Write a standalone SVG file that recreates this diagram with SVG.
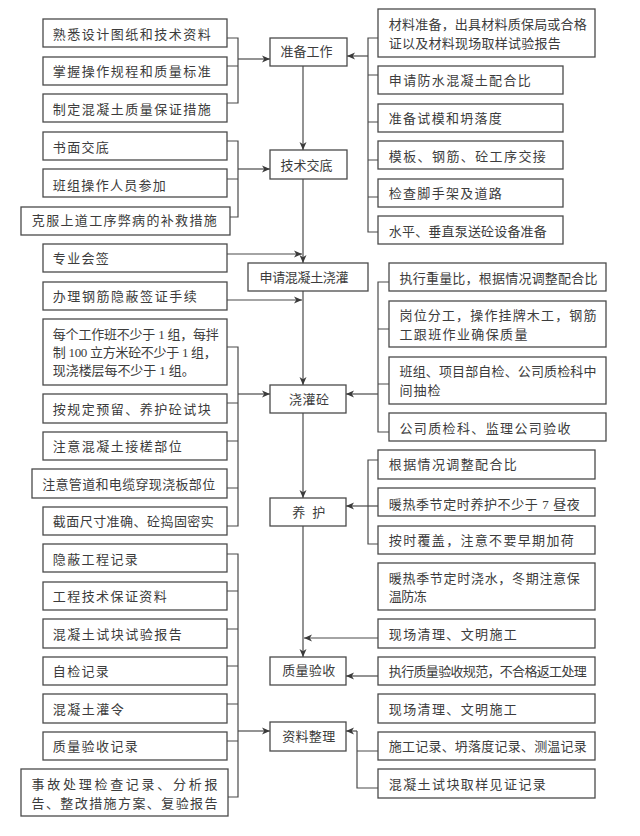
<svg xmlns="http://www.w3.org/2000/svg" width="640" height="836" viewBox="0 0 640 836">
<style>
.box{fill:#fff;stroke:#4a4a4a;stroke-width:1.3}
.t{font-family:"Noto Sans CJK SC",sans-serif;font-size:13px;fill:#3c3c3c}
.tm{font-family:"Liberation Serif","Noto Sans CJK SC",serif;font-size:13px;fill:#3c3c3c}
.ln{fill:none;stroke:#4a4a4a;stroke-width:1.2}
.ar{fill:none;stroke:#4a4a4a;stroke-width:1.2;marker-end:url(#ah)}
</style>
<defs>
<marker id="ah" viewBox="0 0 8 8" refX="8" refY="4" markerWidth="8" markerHeight="8" markerUnits="userSpaceOnUse" orient="auto">
<path d="M0,0.5 L8,4 L0,7.5 L2.2,4 z" fill="#3a3a3a"/>
</marker>
</defs>
<rect width="640" height="836" fill="#fff"/>

<g id="connectors">
<path class="ln" d="M227,38 H238 V103 H227 M227,66 H238"/>
<path class="ar" d="M238,59 H270"/>
<path class="ln" d="M378,38 H368 V232 H378 M368,75 H378 M368,122 H378 M368,160 H378 M368,197 H378"/>
<path class="ar" d="M368,56 H347"/>
<path class="ln" d="M227,141 H238 V217 H230 M227,179 H238"/>
<path class="ar" d="M238,169 H270"/>
<path class="ar" d="M303,66 V150"/>
<path class="ar" d="M303,179 V263"/>
<path class="ar" d="M227,254 H302"/>
<path class="ar" d="M227,300 H302"/>
<path class="ar" d="M303,291 V385"/>
<path class="ln" d="M227,347 H238 V526 H227 M227,403 H238 M227,441 H238 M227,488 H238"/>
<path class="ar" d="M238,394 H270"/>
<path class="ln" d="M389,282 H378 V432 H389 M378,329 H389 M378,384 H389"/>
<path class="ar" d="M378,394 H346"/>
<path class="ar" d="M303,413 V498"/>
<path class="ln" d="M378,460 H368 V544 H378"/>
<path class="ar" d="M378,506 H346"/>
<path class="ar" d="M303,526 V657"/>
<path class="ar" d="M378,638 H304"/>
<path class="ar" d="M378,676 H346"/>
<path class="ln" d="M227,554 H238 V797 H228 M227,591 H238 M227,629 H238 M227,666 H238 M227,704 H238 M227,741 H238"/>
<path class="ar" d="M238,731 H270"/>
<path class="ln" d="M378,751 H357 M378,788 H357 V731"/>
<path class="ar" d="M357,731 H346"/>
</g>

<g id="n_zbgz"><rect class="box" x="270" y="38" width="77" height="28"/><text class="t" x="280.5" y="56" textLength="52" lengthAdjust="spacing">准备工作</text></g>
<g id="n_jsjd"><rect class="box" x="270" y="150" width="77" height="29"/><text class="t" x="280.5" y="170" textLength="52" lengthAdjust="spacing">技术交底</text></g>
<g id="n_sqjz"><rect class="box" x="248" y="263" width="120" height="28"/><text class="t" x="259.5" y="282" textLength="89" lengthAdjust="spacing">申请混凝土浇灌</text></g>
<g id="n_jgt"><rect class="box" x="270" y="385" width="76" height="28"/><text class="t" x="289" y="403.5" textLength="40" lengthAdjust="spacing">浇灌砼</text></g>
<g id="n_yh"><rect class="box" x="270" y="498" width="76" height="28"/><text class="t" x="292.2" y="517" textLength="33" lengthAdjust="spacing">养 护</text></g>
<g id="n_zlys"><rect class="box" x="270" y="657" width="76" height="28"/><text class="t" x="282.2" y="675" textLength="53" lengthAdjust="spacing">质量验收</text></g>
<g id="n_zlzl"><rect class="box" x="270" y="722" width="76" height="29"/><text class="t" x="282.2" y="741" textLength="53" lengthAdjust="spacing">资料整理</text></g>

<g id="l1"><rect class="box" x="43" y="19" width="184" height="28"/><text class="t" x="52.8" y="38.5" textLength="158" lengthAdjust="spacing">熟悉设计图纸和技术资料</text></g>
<g id="l2"><rect class="box" x="43" y="57" width="184" height="28"/><text class="t" x="52.8" y="75.5" textLength="158" lengthAdjust="spacing">掌握操作规程和质量标准</text></g>
<g id="l3"><rect class="box" x="43" y="94" width="184" height="28"/><text class="t" x="52.8" y="113.5" textLength="158" lengthAdjust="spacing">制定混凝土质量保证措施</text></g>
<g id="l4"><rect class="box" x="43" y="132" width="184" height="28"/><text class="t" x="52.8" y="151.5" textLength="56" lengthAdjust="spacing">书面交底</text></g>
<g id="l5"><rect class="box" x="43" y="169" width="184" height="28"/><text class="t" x="52.8" y="189.5" textLength="113" lengthAdjust="spacing">班组操作人员参加</text></g>
<g id="l6"><rect class="box" x="21" y="207" width="209" height="28"/><text class="t" x="31.8" y="225" textLength="185" lengthAdjust="spacing">克服上道工序弊病的补救措施</text></g>
<g id="l7"><rect class="box" x="43" y="244" width="184" height="28"/><text class="t" x="52.8" y="262.5" textLength="56" lengthAdjust="spacing">专业会签</text></g>
<g id="l8"><rect class="box" x="43" y="282" width="184" height="28"/><text class="t" x="52.8" y="301" textLength="144" lengthAdjust="spacing">办理钢筋隐蔽签证手续</text></g>
<g id="l9"><rect class="box" x="43" y="319" width="184" height="66"/>
<text class="tm" x="52.8" y="338.5" textLength="166" lengthAdjust="spacing">每个工作班不少于 1 组，每拌</text>
<text class="tm" x="52.8" y="356.5" textLength="164" lengthAdjust="spacing">制 100 立方米砼不少于 1 组，</text>
<text class="tm" x="52.8" y="375" textLength="142" lengthAdjust="spacing">现浇楼层每不少于 1 组。</text></g>
<g id="l10"><rect class="box" x="43" y="394" width="184" height="29"/><text class="t" x="52.8" y="413.5" textLength="158" lengthAdjust="spacing">按规定预留、养护砼试块</text></g>
<g id="l11"><rect class="box" x="43" y="432" width="184" height="28"/><text class="t" x="52.8" y="450.5" textLength="129" lengthAdjust="spacing">注意混凝土接槎部位</text></g>
<g id="l12"><rect class="box" x="32" y="469" width="195" height="29"/><text class="t" x="42.2" y="488.5" textLength="173" lengthAdjust="spacing">注意管道和电缆穿现浇板部位</text></g>
<g id="l13"><rect class="box" x="43" y="507" width="184" height="28"/><text class="t" x="52.8" y="525.5" textLength="161" lengthAdjust="spacing">截面尺寸准确、砼捣固密实</text></g>
<g id="l14"><rect class="box" x="43" y="544" width="184" height="28"/><text class="t" x="52.8" y="563.5" textLength="85" lengthAdjust="spacing">隐蔽工程记录</text></g>
<g id="l15"><rect class="box" x="43" y="582" width="184" height="28"/><text class="t" x="52.8" y="601" textLength="114" lengthAdjust="spacing">工程技术保证资料</text></g>
<g id="l16"><rect class="box" x="43" y="619" width="184" height="29"/><text class="t" x="52.8" y="638.5" textLength="129" lengthAdjust="spacing">混凝土试块试验报告</text></g>
<g id="l17"><rect class="box" x="43" y="657" width="184" height="28"/><text class="t" x="52.8" y="676" textLength="56" lengthAdjust="spacing">自检记录</text></g>
<g id="l18"><rect class="box" x="43" y="694" width="184" height="29"/><text class="t" x="52.8" y="713.5" textLength="71" lengthAdjust="spacing">混凝土灌令</text></g>
<g id="l19"><rect class="box" x="43" y="732" width="184" height="28"/><text class="t" x="52.8" y="751" textLength="85" lengthAdjust="spacing">质量验收记录</text></g>
<g id="l20"><rect class="box" x="21" y="769" width="207" height="47"/>
<text class="t" x="31.5" y="789" textLength="186" lengthAdjust="spacing">事故处理检查记录、分析报</text>
<text class="t" x="31.5" y="807.5" textLength="186" lengthAdjust="spacing">告、整改措施方案、复验报告</text></g>

<g id="r1"><rect class="box" x="378" y="9" width="217" height="48"/>
<text class="t" x="388.8" y="29" textLength="198" lengthAdjust="spacing">材料准备，出具材料质保局或合格</text>
<text class="t" x="388.8" y="47.5" textLength="172" lengthAdjust="spacing">证以及材料现场取样试验报告</text></g>
<g id="r2"><rect class="box" x="378" y="66" width="185" height="28"/><text class="t" x="388.8" y="84.5" textLength="142" lengthAdjust="spacing">申请防水混凝土配合比</text></g>
<g id="r3"><rect class="box" x="378" y="104" width="185" height="28"/><text class="t" x="388.8" y="122.5" textLength="113" lengthAdjust="spacing">准备试模和坍落度</text></g>
<g id="r4"><rect class="box" x="378" y="141" width="185" height="28"/><text class="t" x="388.8" y="160.5" textLength="157" lengthAdjust="spacing">模板、钢筋、砼工序交接</text></g>
<g id="r5"><rect class="box" x="378" y="179" width="185" height="28"/><text class="t" x="388.8" y="197.5" textLength="113" lengthAdjust="spacing">检查脚手架及道路</text></g>
<g id="r6"><rect class="box" x="378" y="216" width="185" height="28"/><text class="t" x="388.8" y="235.5" textLength="158" lengthAdjust="spacing">水平、垂直泵送砼设备准备</text></g>

<g id="b1"><rect class="box" x="389" y="263" width="217" height="28"/><text class="tm" x="399.5" y="282.5" textLength="198" lengthAdjust="spacing">执行重量比，根据情况调整配合比</text></g>
<g id="b2"><rect class="box" x="389" y="301" width="217" height="46"/>
<text class="t" x="399.5" y="320" textLength="197" lengthAdjust="spacing">岗位分工，操作挂牌木工，钢筋</text>
<text class="t" x="399.5" y="338.5" textLength="128" lengthAdjust="spacing">工跟班作业确保质量</text></g>
<g id="b3"><rect class="box" x="389" y="357" width="217" height="47"/>
<text class="t" x="399.5" y="376" textLength="197" lengthAdjust="spacing">班组、项目部自检、公司质检科中</text>
<text class="t" x="399.5" y="395" textLength="41" lengthAdjust="spacing">间抽检</text></g>
<g id="b4"><rect class="box" x="389" y="413" width="217" height="28"/><text class="t" x="399.5" y="432.5" textLength="171" lengthAdjust="spacing">公司质检科、监理公司验收</text></g>

<g id="c1"><rect class="box" x="378" y="450" width="217" height="29"/><text class="t" x="388.8" y="469" textLength="128" lengthAdjust="spacing">根据情况调整配合比</text></g>
<g id="c2"><rect class="box" x="378" y="488" width="217" height="28"/><text class="tm" x="388.8" y="508.5" textLength="191" lengthAdjust="spacing">暖热季节定时养护不少于 7 昼夜</text></g>
<g id="c3"><rect class="box" x="378" y="526" width="217" height="28"/><text class="t" x="388.8" y="545" textLength="185" lengthAdjust="spacing">按时覆盖，注意不要早期加荷</text></g>
<g id="c4"><rect class="box" x="378" y="563" width="217" height="47"/>
<text class="t" x="388.8" y="582.5" textLength="191" lengthAdjust="spacing">暖热季节定时浇水，冬期注意保</text>
<text class="t" x="388.8" y="601" textLength="38" lengthAdjust="spacing">温防冻</text></g>
<g id="c5"><rect class="box" x="378" y="619" width="217" height="29"/><text class="t" x="388.8" y="639" textLength="128" lengthAdjust="spacing">现场清理、文明施工</text></g>
<g id="c6"><rect class="box" x="378" y="657" width="217" height="28"/><text class="tm" x="388.8" y="676" textLength="198" lengthAdjust="spacing">执行质量验收规范，不合格返工处理</text></g>
<g id="c7"><rect class="box" x="378" y="694" width="217" height="29"/><text class="t" x="388.8" y="713.5" textLength="128" lengthAdjust="spacing">现场清理、文明施工</text></g>
<g id="c8"><rect class="box" x="378" y="732" width="217" height="28"/><text class="t" x="388.8" y="751" textLength="198" lengthAdjust="spacing">施工记录、坍落度记录、测温记录</text></g>
<g id="c9"><rect class="box" x="378" y="769" width="217" height="29"/><text class="t" x="388.8" y="788.5" textLength="157" lengthAdjust="spacing">混凝土试块取样见证记录</text></g>
</svg>
